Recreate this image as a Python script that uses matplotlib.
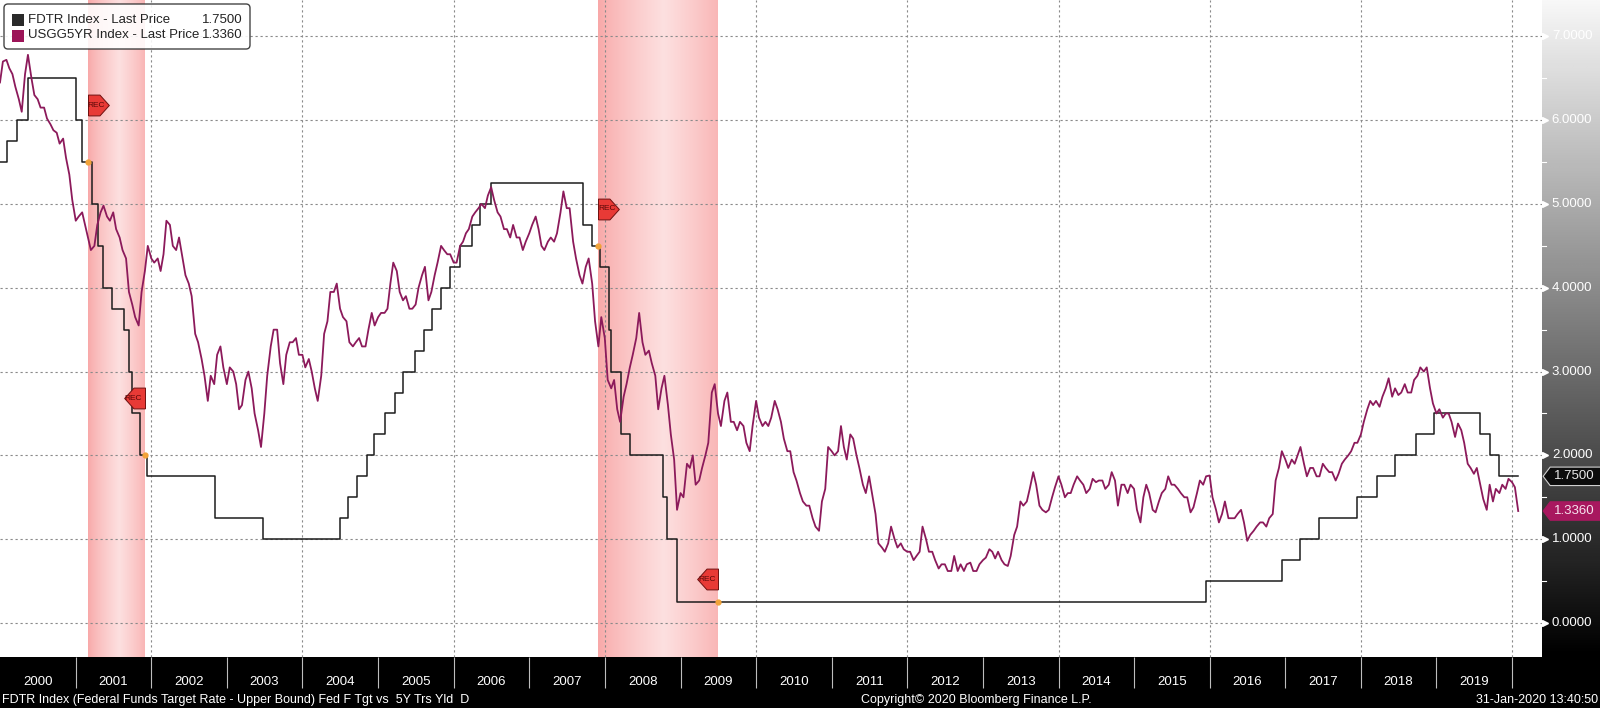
import numpy as np
import pandas as pd
import matplotlib
matplotlib.use("Agg")
import matplotlib.pyplot as plt
import matplotlib.dates as mdates
import matplotlib.transforms as mtransforms
from matplotlib.patches import FancyBboxPatch, Polygon, Rectangle
from matplotlib.path import Path

plt.rcParams['font.family'] = ['Liberation Sans', 'DejaVu Sans']

# Fed funds target rate (upper bound): change dates and new levels
fdtr_dates = ['1999-12-31', '2000-02-02', '2000-03-21', '2000-05-16',
              '2001-01-03', '2001-01-31', '2001-03-20', '2001-04-18', '2001-05-15',
              '2001-06-27', '2001-08-21', '2001-09-17', '2001-10-02', '2001-11-06',
              '2001-12-11', '2002-11-06', '2003-06-25',
              '2004-06-30', '2004-08-10', '2004-09-21', '2004-11-10', '2004-12-14',
              '2005-02-02', '2005-03-22', '2005-05-03', '2005-06-30', '2005-08-09',
              '2005-09-20', '2005-11-01', '2005-12-13', '2006-01-31', '2006-03-28',
              '2006-05-10', '2006-06-29',
              '2007-09-18', '2007-10-31', '2007-12-11', '2008-01-22', '2008-01-30',
              '2008-03-18', '2008-04-30', '2008-10-08', '2008-10-29', '2008-12-16',
              '2015-12-16', '2016-12-14', '2017-03-15', '2017-06-14', '2017-12-13',
              '2018-03-21', '2018-06-13', '2018-09-26', '2018-12-19',
              '2019-07-31', '2019-09-18', '2019-10-30', '2020-01-31']
fdtr_vals = [5.50, 5.75, 6.00, 6.50,
             6.00, 5.50, 5.00, 4.50, 4.00, 3.75, 3.50, 3.00, 2.50, 2.00, 1.75,
             1.25, 1.00,
             1.25, 1.50, 1.75, 2.00, 2.25, 2.50, 2.75, 3.00, 3.25, 3.50, 3.75,
             4.00, 4.25, 4.50, 4.75, 5.00, 5.25,
             4.75, 4.50, 4.25, 3.50, 3.00, 2.25, 2.00, 1.50, 1.00, 0.25,
             0.50, 0.75, 1.00, 1.25, 1.50, 1.75, 2.00, 2.25, 2.50,
             2.25, 2.00, 1.75, 1.75]

y2000 = [6.45, 6.70, 6.72, 6.62, 6.55, 6.40, 6.25, 6.10, 6.55, 6.78, 6.50, 6.30,
         6.25, 6.15, 6.15, 6.02, 5.95, 5.88, 5.85, 5.72, 5.78, 5.55, 5.35, 5.05]
y2001 = [4.80, 4.85, 4.90, 4.75, 4.60, 4.45, 4.50, 4.75, 4.90, 4.98, 4.85, 4.80,
         4.90, 4.70, 4.60, 4.45, 4.35, 3.95, 3.80, 3.65, 3.55, 3.95, 4.20, 4.50]
y2002 = [4.35, 4.30, 4.35, 4.20, 4.40, 4.80, 4.75, 4.50, 4.45, 4.60, 4.35, 4.15,
         4.05, 3.90, 3.45, 3.35, 3.15, 2.95, 2.65, 2.95, 2.85, 3.20, 3.30, 3.05]
y2003 = [2.85, 3.05, 3.00, 2.85, 2.55, 2.60, 2.90, 3.00, 2.80, 2.50, 2.30, 2.10,
         2.50, 2.95, 3.30, 3.50, 3.50, 3.10, 2.85, 3.20, 3.35, 3.35, 3.40, 3.20]
y2004 = [3.20, 3.05, 3.15, 3.00, 2.80, 2.65, 2.95, 3.45, 3.60, 3.95, 3.95, 4.05,
         3.75, 3.65, 3.60, 3.35, 3.30, 3.35, 3.40, 3.30, 3.30, 3.50, 3.70, 3.55]
y2005 = [3.65, 3.70, 3.70, 3.75, 4.05, 4.30, 4.20, 3.95, 3.85, 3.90, 3.75, 3.75,
         3.80, 4.00, 4.15, 4.25, 3.85, 3.95, 4.15, 4.30, 4.50, 4.45, 4.40, 4.40]
y2006 = [4.30, 4.30, 4.50, 4.55, 4.65, 4.70, 4.85, 4.90, 4.95, 5.00, 4.95, 5.10,
         5.20, 5.05, 4.90, 4.85, 4.70, 4.70, 4.60, 4.75, 4.60, 4.60, 4.45, 4.55]
y2007 = [4.65, 4.75, 4.85, 4.70, 4.50, 4.45, 4.55, 4.60, 4.55, 4.65, 4.90, 5.15,
         4.95, 4.95, 4.55, 4.35, 4.15, 4.05, 4.25, 4.35, 4.05, 3.60, 3.30, 3.65]
y2008 = [3.40, 2.90, 2.80, 2.90, 2.55, 2.40, 2.70, 2.85, 3.05, 3.20, 3.40, 3.70,
         3.35, 3.20, 3.25, 3.10, 2.95, 2.55, 2.80, 2.95, 2.60, 2.25, 1.95, 1.35]
y2009 = [1.55, 1.50, 1.90, 1.85, 2.00, 1.65, 1.70, 1.85, 2.00, 2.15, 2.75, 2.85,
         2.50, 2.35, 2.65, 2.75, 2.40, 2.40, 2.30, 2.40, 2.35, 2.15, 2.05, 2.35]
y2010 = [2.65, 2.45, 2.35, 2.40, 2.35, 2.45, 2.65, 2.55, 2.40, 2.20, 2.05, 2.05,
         1.80, 1.70, 1.55, 1.45, 1.40, 1.40, 1.25, 1.15, 1.10, 1.45, 1.60, 2.10]
y2011 = [2.05, 2.00, 2.05, 2.35, 2.10, 1.95, 2.25, 2.20, 2.00, 1.85, 1.65, 1.55,
         1.75, 1.55, 1.30, 0.95, 0.90, 0.85, 0.95, 1.15, 1.00, 0.90, 0.95, 0.88]
y2012 = [0.85, 0.85, 0.75, 0.80, 0.85, 1.15, 1.00, 0.85, 0.85, 0.75, 0.65, 0.70,
         0.70, 0.62, 0.62, 0.80, 0.62, 0.70, 0.62, 0.70, 0.72, 0.62, 0.62, 0.70]
y2013 = [0.75, 0.78, 0.88, 0.85, 0.77, 0.85, 0.75, 0.70, 0.68, 0.80, 1.05, 1.15,
         1.45, 1.40, 1.45, 1.60, 1.80, 1.65, 1.40, 1.35, 1.32, 1.35, 1.50, 1.62]
y2014 = [1.75, 1.65, 1.50, 1.55, 1.55, 1.65, 1.75, 1.70, 1.65, 1.55, 1.60, 1.72,
         1.68, 1.70, 1.70, 1.60, 1.65, 1.80, 1.70, 1.40, 1.65, 1.65, 1.55, 1.65]
y2015 = [1.60, 1.35, 1.20, 1.50, 1.65, 1.55, 1.35, 1.32, 1.45, 1.55, 1.60, 1.75,
         1.65, 1.65, 1.60, 1.55, 1.50, 1.50, 1.32, 1.38, 1.55, 1.70, 1.65, 1.75]
y2016 = [1.76, 1.50, 1.35, 1.20, 1.30, 1.45, 1.25, 1.25, 1.25, 1.30, 1.35, 1.20,
         0.98, 1.05, 1.10, 1.15, 1.20, 1.20, 1.15, 1.25, 1.30, 1.70, 1.85, 2.05]
y2017 = [1.95, 1.85, 1.95, 1.90, 2.00, 2.10, 1.90, 1.75, 1.85, 1.85, 1.75, 1.75,
         1.90, 1.85, 1.80, 1.80, 1.70, 1.78, 1.90, 1.95, 2.00, 2.05, 2.15, 2.15]
y2018 = [2.25, 2.40, 2.55, 2.65, 2.60, 2.65, 2.58, 2.70, 2.80, 2.92, 2.70, 2.80,
         2.72, 2.75, 2.85, 2.75, 2.75, 2.90, 2.95, 3.05, 3.00, 3.05, 2.80, 2.62]
y2019 = [2.50, 2.55, 2.45, 2.50, 2.50, 2.40, 2.22, 2.38, 2.30, 2.15, 1.90, 1.85,
         1.78, 1.85, 1.65, 1.48, 1.35, 1.65, 1.45, 1.60, 1.55, 1.65, 1.60, 1.72]
y2020 = [1.68, 1.62, 1.336]

usg5_vals = (y2000 + y2001 + y2002 + y2003 + y2004 + y2005 + y2006 + y2007 +
             y2008 + y2009 + y2010 + y2011 + y2012 + y2013 + y2014 + y2015 +
             y2016 + y2017 + y2018 + y2019 + y2020)
usg5_dates = list(pd.date_range('2000-01-01', '2020-01-15', freq='SMS')) + [pd.Timestamp('2020-01-31')]
assert len(usg5_dates) == len(usg5_vals)

rec_starts = ['2001-03-01', '2007-12-01']
rec_ends = ['2001-12-01', '2009-07-01']
rec_start_tag = [6.18, 4.94]
rec_end_tag = [2.68, 0.52]

years = list(range(2000, 2020))
right_ticks = [0, 1, 2, 3, 4, 5, 6, 7]
last_fdtr = 1.75
last_usg5 = 1.336

footer_left = 'FDTR Index (Federal Funds Target Rate - Upper Bound) Fed F Tgt vs  5Y Trs Yld  D'
footer_mid = 'Copyright\u00a9 2020 Bloomberg Finance L.P.'
footer_right = '31-Jan-2020 13:40:50'

C_5Y = '#8c1a5b'
C_FD = '#1c1c1c'

W, H = 1600, 708
fig = plt.figure(figsize=(16, 7.08), dpi=100, facecolor='black')
bar_h = 51 / H
main_w = 1542 / W
ax = fig.add_axes([0, bar_h, main_w, 1 - bar_h])
ax.set_facecolor('white')

x0 = mdates.date2num(pd.Timestamp('2000-01-01'))
per_px = (mdates.date2num(pd.Timestamp('2020-01-01')) - x0) / 1512.0
xmax = x0 + per_px * 1542
ylo, yhi = -0.406, 7.434

# recession shading, lighter in the middle
t = np.linspace(0, 1, 120)
w = np.clip(1 - np.abs(t - 0.55) / 0.55, 0, 1) ** 0.8
edge = np.array([248, 168, 168]) / 255
mid = np.array([253, 224, 224]) / 255
grad = (edge[None, :] + (mid - edge)[None, :] * w[:, None])[None, :, :]
for s, e in zip(rec_starts, rec_ends):
    ax.imshow(grad, extent=[mdates.date2num(pd.Timestamp(s)), mdates.date2num(pd.Timestamp(e)), ylo, yhi],
              aspect='auto', zorder=0.5, interpolation='bilinear')

ax.plot(pd.to_datetime(fdtr_dates), fdtr_vals, drawstyle='steps-post', color=C_FD, lw=1.1, zorder=2)
ax.plot(usg5_dates, usg5_vals, color=C_5Y, lw=1.3, zorder=3)

# small orange points where the step line crosses recession edges
fd_num = mdates.date2num(pd.to_datetime(fdtr_dates))
for d in rec_starts + rec_ends:
    dn = mdates.date2num(pd.Timestamp(d))
    v = fdtr_vals[np.searchsorted(fd_num, dn, side='right') - 1]
    ax.plot(dn, v, 'o', ms=3.5, color='#f2a33a', mec='#f2a33a', zorder=4)

# REC tags (custom marker paths are scaled so |max vertex| -> 0.5 * ms)
right_tag = Path([(0, -1), (1.1, -1), (2, 0), (1.1, 1), (0, 1), (0, -1)])
left_tag = Path([(0, -1), (-1.1, -1), (-2, 0), (-1.1, 1), (0, 1), (0, -1)])
for s, e, vs, ve in zip(rec_starts, rec_ends, rec_start_tag, rec_end_tag):
    sn = mdates.date2num(pd.Timestamp(s))
    en = mdates.date2num(pd.Timestamp(e))
    ax.plot(sn, vs, marker=right_tag, ms=30, mfc='#e83a36', mec='#6e1010', mew=0.7, zorder=5)
    ax.annotate('REC', (sn, vs), xytext=(6.2, 0), textcoords='offset points', ha='center', va='center',
                fontsize=6, color='#5a0808', zorder=6)
    ax.plot(en, ve, marker=left_tag, ms=30, mfc='#e83a36', mec='#6e1010', mew=0.7, zorder=5)
    ax.annotate('REC', (en, ve), xytext=(-8.2, 0), textcoords='offset points', ha='center', va='center',
                fontsize=6, color='#5a0808', zorder=6)

ax.set_xlim(x0, xmax)
ax.set_ylim(ylo, yhi)
ax.set_yticks(right_ticks)
ax.set_xticks([mdates.date2num(pd.Timestamp(f'{y}-01-01')) for y in range(2002, 2021, 2)])
ax.grid(True, color='#8a8a8a', lw=0.8, ls=(0, (2, 2.5)))
ax.tick_params(length=0, labelleft=False, labelbottom=False)
for sp in ax.spines.values():
    sp.set_visible(False)

# right value panel with gray gradient
ax_r = fig.add_axes([main_w, bar_h, 1 - main_w, 1 - bar_h])
vgrad = np.linspace(0.97, 0.0, 256)[:, None]
ax_r.imshow(vgrad, cmap='gray', vmin=0, vmax=1, extent=[0, 1, ylo, yhi], aspect='auto')
ax_r.set_xlim(0, 1)
ax_r.set_ylim(ylo, yhi)
ax_r.axis('off')
for v in right_ticks:
    ax_r.plot(0.05, v, marker='>', ms=4, color='white', mec='white')
    ax_r.text(0.17, v, f'{v:.4f}', color='white', fontsize=9.5, va='center', ha='left')
for v in right_ticks[:-1]:
    ax_r.plot([0, 0.07], [v + 0.5, v + 0.5], color='white', lw=0.8)

for val, face, edgec, txtc in [(last_fdtr, '#0c0c0c', '#d0d0d0', '#e8e8e8'),
                               (last_usg5, '#a8185f', '#a8185f', '#f6e4ee')]:
    h = 0.11
    poly = Polygon([(0.02, val), (0.14, val + h), (1.05, val + h), (1.05, val - h), (0.14, val - h)],
                   closed=True, facecolor=face, edgecolor=edgec, lw=0.8, zorder=5, clip_on=False)
    ax_r.add_patch(poly)
    ax_r.text(0.2, val, f'{val:.4f}', color=txtc, fontsize=9.5, va='center', ha='left', zorder=6)

# legend, drawn in pixel coords from the top-left corner
px = mtransforms.Affine2D().scale(0.01, -0.01).translate(0, H / 100) + fig.dpi_scale_trans
leg = FancyBboxPatch((4, 4), 246, 45, boxstyle='round,pad=0,rounding_size=4', transform=px,
                     facecolor='white', edgecolor='#2a2a2a', lw=1.0, alpha=0.88, zorder=10)
fig.patches.append(leg)
leg_rows = [('FDTR Index - Last Price', f'{last_fdtr:.4f}', '#2a2a2a'),
            ('USGG5YR Index - Last Price', f'{last_usg5:.4f}', '#9c1458')]
for i, (name, val, col) in enumerate(leg_rows):
    yc = 20 + i * 15.5
    fig.patches.append(Rectangle((12, yc - 6), 12, 12, transform=px, facecolor=col, edgecolor='none', zorder=11))
    fig.text(28, yc, name, transform=px, fontsize=9.5, va='center', ha='left', color='#222222', zorder=12)
    fig.text(243, yc, val, transform=px, fontsize=9.5, va='center', ha='right', color='#222222', zorder=12)

# bottom date bar
ax_b = fig.add_axes([0, 0, 1, bar_h])
ax_b.set_xlim(x0, x0 + per_px * W)
ax_b.set_ylim(0, 1)
ax_b.axis('off')
ax_b.vlines([mdates.date2num(pd.Timestamp(f'{y}-01-01')) for y in range(2001, 2021)], 0.39, 1.0,
            color='#bdbdbd', lw=0.8)
for y in years:
    ax_b.text(mdates.date2num(pd.Timestamp(f'{y}-07-02')), 0.51, str(y), color='white',
              fontsize=9.5, ha='center', va='center')

fig.text(2, 700, footer_left, transform=px, color='white', fontsize=9, ha='left', va='center')
fig.text(861, 700, footer_mid, transform=px, color='white', fontsize=9, ha='left', va='center')
fig.text(1598, 700, footer_right, transform=px, color='white', fontsize=9, ha='right', va='center')

fig.savefig('out.png', dpi=100, facecolor=fig.get_facecolor())
